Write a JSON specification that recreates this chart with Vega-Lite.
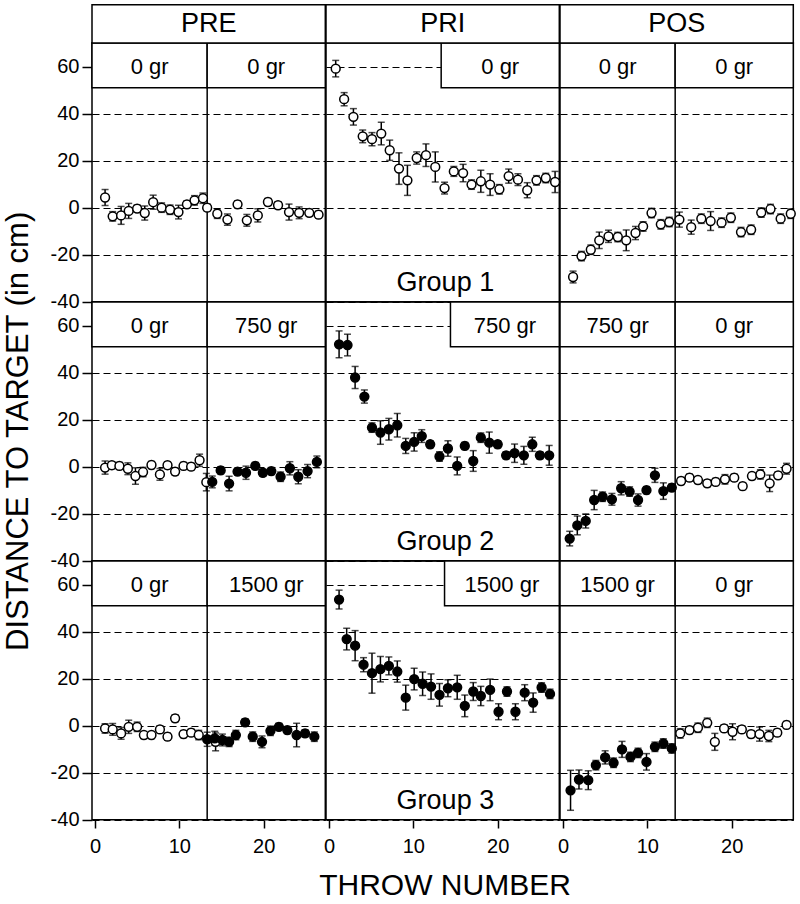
{
  "$schema": "https://vega.github.io/schema/vega-lite/v6.json",
  "background": "white",
  "padding": {"left": 3, "top": 3, "right": 5, "bottom": 5},
  "bounds": "flush",
  "spacing": 0,
  "data": {"values": [
    {"kind":"head","group":"Group 1","phase":"PRE","start":-0.35,"end":27.3,"label":"PRE"},
    {"kind":"head","group":"Group 1","phase":"PRI","start":-0.35,"end":27.3,"label":"PRI"},
    {"kind":"head","group":"Group 1","phase":"POS","start":-0.35,"end":27.3,"label":"POS"},
    {"kind":"box","group":"Group 1","phase":"PRE","start":-0.35,"end":13.3,"label":"0 gr"},
    {"kind":"box","group":"Group 1","phase":"PRE","start":13.3,"end":27.3,"label":"0 gr"},
    {"kind":"box","group":"Group 1","phase":"PRI","start":13.3,"end":27.3,"label":"0 gr"},
    {"kind":"box","group":"Group 1","phase":"POS","start":-0.35,"end":13.3,"label":"0 gr"},
    {"kind":"box","group":"Group 1","phase":"POS","start":13.3,"end":27.3,"label":"0 gr"},
    {"kind":"box","group":"Group 2","phase":"PRE","start":-0.35,"end":13.3,"label":"0 gr"},
    {"kind":"box","group":"Group 2","phase":"PRE","start":13.3,"end":27.3,"label":"750 gr"},
    {"kind":"box","group":"Group 2","phase":"PRI","start":14.4,"end":27.3,"label":"750 gr"},
    {"kind":"box","group":"Group 2","phase":"POS","start":-0.35,"end":13.3,"label":"750 gr"},
    {"kind":"box","group":"Group 2","phase":"POS","start":13.3,"end":27.3,"label":"0 gr"},
    {"kind":"box","group":"Group 3","phase":"PRE","start":-0.35,"end":13.3,"label":"0 gr"},
    {"kind":"box","group":"Group 3","phase":"PRE","start":13.3,"end":27.3,"label":"1500 gr"},
    {"kind":"box","group":"Group 3","phase":"PRI","start":13.7,"end":27.3,"label":"1500 gr"},
    {"kind":"box","group":"Group 3","phase":"POS","start":-0.35,"end":13.3,"label":"1500 gr"},
    {"kind":"box","group":"Group 3","phase":"POS","start":13.3,"end":27.3,"label":"0 gr"},
    {"kind":"glabel","group":"Group 1","phase":"PRI","label":"Group 1"},
    {"kind":"glabel","group":"Group 2","phase":"PRI","label":"Group 2"},
    {"kind":"glabel","group":"Group 3","phase":"PRI","label":"Group 3"},

    {"kind":"pt","group":"Group 1","phase":"PRE","t":1.2,"d":4.3,"se":3.4,"fill":"open"},
    {"kind":"pt","group":"Group 1","phase":"PRE","t":2.1,"d":-3.7,"se":2,"fill":"open"},
    {"kind":"pt","group":"Group 1","phase":"PRE","t":3.1,"d":-3.3,"se":3.8,"fill":"open"},
    {"kind":"pt","group":"Group 1","phase":"PRE","t":4.0,"d":-1.4,"se":3.2,"fill":"open"},
    {"kind":"pt","group":"Group 1","phase":"PRE","t":5.0,"d":-0.4,"se":1.5,"fill":"open"},
    {"kind":"pt","group":"Group 1","phase":"PRE","t":5.9,"d":-2.3,"se":3,"fill":"open"},
    {"kind":"pt","group":"Group 1","phase":"PRE","t":6.9,"d":2.3,"se":3,"fill":"open"},
    {"kind":"pt","group":"Group 1","phase":"PRE","t":7.9,"d":0,"se":2,"fill":"open"},
    {"kind":"pt","group":"Group 1","phase":"PRE","t":8.9,"d":-0.9,"se":2,"fill":"open"},
    {"kind":"pt","group":"Group 1","phase":"PRE","t":9.9,"d":-1.9,"se":2.9,"fill":"open"},
    {"kind":"pt","group":"Group 1","phase":"PRE","t":10.9,"d":1.4,"se":1.5,"fill":"open"},
    {"kind":"pt","group":"Group 1","phase":"PRE","t":11.8,"d":3.1,"se":2,"fill":"open"},
    {"kind":"pt","group":"Group 1","phase":"PRE","t":12.8,"d":4.0,"se":2.2,"fill":"open"},
    {"kind":"pt","group":"Group 1","phase":"PRE","t":13.3,"d":0,"se":1.5,"fill":"open"},
    {"kind":"pt","group":"Group 1","phase":"PRE","t":14.5,"d":-2.6,"se":2,"fill":"open"},
    {"kind":"pt","group":"Group 1","phase":"PRE","t":15.7,"d":-5.1,"se":2.4,"fill":"open"},
    {"kind":"pt","group":"Group 1","phase":"PRE","t":16.9,"d":1.4,"se":1.5,"fill":"open"},
    {"kind":"pt","group":"Group 1","phase":"PRE","t":18.0,"d":-5.4,"se":2.5,"fill":"open"},
    {"kind":"pt","group":"Group 1","phase":"PRE","t":19.3,"d":-3.3,"se":2.8,"fill":"open"},
    {"kind":"pt","group":"Group 1","phase":"PRE","t":20.5,"d":2.4,"se":1.5,"fill":"open"},
    {"kind":"pt","group":"Group 1","phase":"PRE","t":21.7,"d":1.0,"se":1.5,"fill":"open"},
    {"kind":"pt","group":"Group 1","phase":"PRE","t":23.0,"d":-1.9,"se":3.4,"fill":"open"},
    {"kind":"pt","group":"Group 1","phase":"PRE","t":24.2,"d":-2.2,"se":2.5,"fill":"open"},
    {"kind":"pt","group":"Group 1","phase":"PRE","t":25.4,"d":-2.2,"se":1.5,"fill":"open"},
    {"kind":"pt","group":"Group 1","phase":"PRE","t":26.5,"d":-3.0,"se":1.5,"fill":"open"},

    {"kind":"pt","group":"Group 1","phase":"PRI","t":0.8,"d":59.1,"se":3.5,"fill":"open"},
    {"kind":"pt","group":"Group 1","phase":"PRI","t":1.8,"d":46.1,"se":2.8,"fill":"open"},
    {"kind":"pt","group":"Group 1","phase":"PRI","t":2.9,"d":38.6,"se":3.5,"fill":"open"},
    {"kind":"pt","group":"Group 1","phase":"PRI","t":4.0,"d":30.3,"se":2.7,"fill":"open"},
    {"kind":"pt","group":"Group 1","phase":"PRI","t":5.1,"d":29.1,"se":2.8,"fill":"open"},
    {"kind":"pt","group":"Group 1","phase":"PRI","t":6.2,"d":31.5,"se":4.8,"fill":"open"},
    {"kind":"pt","group":"Group 1","phase":"PRI","t":7.2,"d":24.4,"se":4.3,"fill":"open"},
    {"kind":"pt","group":"Group 1","phase":"PRI","t":8.3,"d":16.6,"se":6.7,"fill":"open"},
    {"kind":"pt","group":"Group 1","phase":"PRI","t":9.3,"d":11.6,"se":6.4,"fill":"open"},
    {"kind":"pt","group":"Group 1","phase":"PRI","t":10.4,"d":21.1,"se":2.6,"fill":"open"},
    {"kind":"pt","group":"Group 1","phase":"PRI","t":11.5,"d":22.3,"se":4.8,"fill":"open"},
    {"kind":"pt","group":"Group 1","phase":"PRI","t":12.6,"d":17.3,"se":6.4,"fill":"open"},
    {"kind":"pt","group":"Group 1","phase":"PRI","t":13.7,"d":8.3,"se":2.5,"fill":"open"},
    {"kind":"pt","group":"Group 1","phase":"PRI","t":14.8,"d":15.4,"se":2.1,"fill":"open"},
    {"kind":"pt","group":"Group 1","phase":"PRI","t":15.9,"d":14.7,"se":3.7,"fill":"open"},
    {"kind":"pt","group":"Group 1","phase":"PRI","t":16.9,"d":9.8,"se":2,"fill":"open"},
    {"kind":"pt","group":"Group 1","phase":"PRI","t":18.0,"d":11.2,"se":4.7,"fill":"open"},
    {"kind":"pt","group":"Group 1","phase":"PRI","t":19.1,"d":9.8,"se":4.6,"fill":"open"},
    {"kind":"pt","group":"Group 1","phase":"PRI","t":20.2,"d":7.8,"se":2,"fill":"open"},
    {"kind":"pt","group":"Group 1","phase":"PRI","t":21.3,"d":13.4,"se":3,"fill":"open"},
    {"kind":"pt","group":"Group 1","phase":"PRI","t":22.4,"d":11.9,"se":2.5,"fill":"open"},
    {"kind":"pt","group":"Group 1","phase":"PRI","t":23.5,"d":7.4,"se":3.2,"fill":"open"},
    {"kind":"pt","group":"Group 1","phase":"PRI","t":24.6,"d":11.6,"se":2,"fill":"open"},
    {"kind":"pt","group":"Group 1","phase":"PRI","t":25.7,"d":12.6,"se":2,"fill":"open"},
    {"kind":"pt","group":"Group 1","phase":"PRI","t":26.8,"d":10.9,"se":4.5,"fill":"open"},

    {"kind":"pt","group":"Group 1","phase":"POS","t":1.2,"d":-29.5,"se":2.5,"fill":"open"},
    {"kind":"pt","group":"Group 1","phase":"POS","t":2.2,"d":-20.6,"se":2,"fill":"open"},
    {"kind":"pt","group":"Group 1","phase":"POS","t":3.3,"d":-17.9,"se":2,"fill":"open"},
    {"kind":"pt","group":"Group 1","phase":"POS","t":4.3,"d":-13.9,"se":3.5,"fill":"open"},
    {"kind":"pt","group":"Group 1","phase":"POS","t":5.4,"d":-12.2,"se":2.6,"fill":"open"},
    {"kind":"pt","group":"Group 1","phase":"POS","t":6.5,"d":-12.5,"se":2,"fill":"open"},
    {"kind":"pt","group":"Group 1","phase":"POS","t":7.5,"d":-13.9,"se":4.4,"fill":"open"},
    {"kind":"pt","group":"Group 1","phase":"POS","t":8.6,"d":-10.8,"se":2.8,"fill":"open"},
    {"kind":"pt","group":"Group 1","phase":"POS","t":9.5,"d":-8.0,"se":2,"fill":"open"},
    {"kind":"pt","group":"Group 1","phase":"POS","t":10.5,"d":-2.3,"se":2,"fill":"open"},
    {"kind":"pt","group":"Group 1","phase":"POS","t":11.6,"d":-7.1,"se":2,"fill":"open"},
    {"kind":"pt","group":"Group 1","phase":"POS","t":12.6,"d":-6.1,"se":2,"fill":"open"},
    {"kind":"pt","group":"Group 1","phase":"POS","t":13.8,"d":-5.1,"se":3.2,"fill":"open"},
    {"kind":"pt","group":"Group 1","phase":"POS","t":15.2,"d":-8.3,"se":3,"fill":"open"},
    {"kind":"pt","group":"Group 1","phase":"POS","t":16.4,"d":-4.7,"se":2,"fill":"open"},
    {"kind":"pt","group":"Group 1","phase":"POS","t":17.5,"d":-5.7,"se":4,"fill":"open"},
    {"kind":"pt","group":"Group 1","phase":"POS","t":18.8,"d":-6.4,"se":2,"fill":"open"},
    {"kind":"pt","group":"Group 1","phase":"POS","t":19.9,"d":-4.3,"se":2,"fill":"open"},
    {"kind":"pt","group":"Group 1","phase":"POS","t":21.1,"d":-10.4,"se":2,"fill":"open"},
    {"kind":"pt","group":"Group 1","phase":"POS","t":22.3,"d":-9.4,"se":2,"fill":"open"},
    {"kind":"pt","group":"Group 1","phase":"POS","t":23.5,"d":-2.1,"se":2,"fill":"open"},
    {"kind":"pt","group":"Group 1","phase":"POS","t":24.6,"d":-0.6,"se":2,"fill":"open"},
    {"kind":"pt","group":"Group 1","phase":"POS","t":25.8,"d":-4.7,"se":2,"fill":"open"},
    {"kind":"pt","group":"Group 1","phase":"POS","t":27.0,"d":-2.6,"se":2,"fill":"open"},

    {"kind":"pt","group":"Group 2","phase":"PRE","t":1.2,"d":-0.4,"se":2.8,"fill":"open"},
    {"kind":"pt","group":"Group 2","phase":"PRE","t":2.0,"d":0.6,"se":1.5,"fill":"open"},
    {"kind":"pt","group":"Group 2","phase":"PRE","t":2.9,"d":0.3,"se":1.5,"fill":"open"},
    {"kind":"pt","group":"Group 2","phase":"PRE","t":3.9,"d":-0.9,"se":2.5,"fill":"open"},
    {"kind":"pt","group":"Group 2","phase":"PRE","t":4.8,"d":-4.0,"se":3.5,"fill":"open"},
    {"kind":"pt","group":"Group 2","phase":"PRE","t":5.7,"d":-2.3,"se":2,"fill":"open"},
    {"kind":"pt","group":"Group 2","phase":"PRE","t":6.7,"d":0.7,"se":1.5,"fill":"open"},
    {"kind":"pt","group":"Group 2","phase":"PRE","t":7.7,"d":-3.3,"se":2.5,"fill":"open"},
    {"kind":"pt","group":"Group 2","phase":"PRE","t":8.6,"d":0.6,"se":1.5,"fill":"open"},
    {"kind":"pt","group":"Group 2","phase":"PRE","t":9.5,"d":-2.1,"se":1.5,"fill":"open"},
    {"kind":"pt","group":"Group 2","phase":"PRE","t":10.5,"d":0.3,"se":1.5,"fill":"open"},
    {"kind":"pt","group":"Group 2","phase":"PRE","t":11.4,"d":0,"se":1.5,"fill":"open"},
    {"kind":"pt","group":"Group 2","phase":"PRE","t":12.4,"d":2.7,"se":2.6,"fill":"open"},
    {"kind":"pt","group":"Group 2","phase":"PRE","t":13.2,"d":-6.6,"se":3.7,"fill":"open"},
    {"kind":"pt","group":"Group 2","phase":"PRE","t":13.9,"d":-6.5,"se":2.5,"fill":"filled"},
    {"kind":"pt","group":"Group 2","phase":"PRE","t":14.9,"d":-1.6,"se":1.5,"fill":"filled"},
    {"kind":"pt","group":"Group 2","phase":"PRE","t":15.9,"d":-7.2,"se":3.1,"fill":"filled"},
    {"kind":"pt","group":"Group 2","phase":"PRE","t":16.9,"d":-2.1,"se":1.5,"fill":"filled"},
    {"kind":"pt","group":"Group 2","phase":"PRE","t":17.9,"d":-2.6,"se":2.8,"fill":"filled"},
    {"kind":"pt","group":"Group 2","phase":"PRE","t":19.0,"d":0.3,"se":1.5,"fill":"filled"},
    {"kind":"pt","group":"Group 2","phase":"PRE","t":19.9,"d":-2.6,"se":1.5,"fill":"filled"},
    {"kind":"pt","group":"Group 2","phase":"PRE","t":20.9,"d":-1.9,"se":1.5,"fill":"filled"},
    {"kind":"pt","group":"Group 2","phase":"PRE","t":22.0,"d":-4.3,"se":2,"fill":"filled"},
    {"kind":"pt","group":"Group 2","phase":"PRE","t":23.1,"d":-0.7,"se":2.8,"fill":"filled"},
    {"kind":"pt","group":"Group 2","phase":"PRE","t":24.1,"d":-4.3,"se":3,"fill":"filled"},
    {"kind":"pt","group":"Group 2","phase":"PRE","t":25.2,"d":-1.9,"se":2.8,"fill":"filled"},
    {"kind":"pt","group":"Group 2","phase":"PRE","t":26.3,"d":2.0,"se":2.5,"fill":"filled"},

    {"kind":"pt","group":"Group 2","phase":"PRI","t":1.2,"d":52.0,"se":5.7,"fill":"filled"},
    {"kind":"pt","group":"Group 2","phase":"PRI","t":2.2,"d":51.7,"se":4.6,"fill":"filled"},
    {"kind":"pt","group":"Group 2","phase":"PRI","t":3.1,"d":37.9,"se":4.7,"fill":"filled"},
    {"kind":"pt","group":"Group 2","phase":"PRI","t":4.2,"d":29.8,"se":2.8,"fill":"filled"},
    {"kind":"pt","group":"Group 2","phase":"PRI","t":5.1,"d":16.6,"se":2,"fill":"filled"},
    {"kind":"pt","group":"Group 2","phase":"PRI","t":6.1,"d":14.5,"se":5.0,"fill":"filled"},
    {"kind":"pt","group":"Group 2","phase":"PRI","t":7.1,"d":15.9,"se":4.6,"fill":"filled"},
    {"kind":"pt","group":"Group 2","phase":"PRI","t":8.1,"d":17.6,"se":5.0,"fill":"filled"},
    {"kind":"pt","group":"Group 2","phase":"PRI","t":9.1,"d":8.8,"se":3.2,"fill":"filled"},
    {"kind":"pt","group":"Group 2","phase":"PRI","t":10.1,"d":10.5,"se":3.9,"fill":"filled"},
    {"kind":"pt","group":"Group 2","phase":"PRI","t":11.0,"d":13.0,"se":2.7,"fill":"filled"},
    {"kind":"pt","group":"Group 2","phase":"PRI","t":12.0,"d":9.5,"se":1.5,"fill":"filled"},
    {"kind":"pt","group":"Group 2","phase":"PRI","t":13.1,"d":4.3,"se":2,"fill":"filled"},
    {"kind":"pt","group":"Group 2","phase":"PRI","t":14.1,"d":7.7,"se":3.3,"fill":"filled"},
    {"kind":"pt","group":"Group 2","phase":"PRI","t":15.2,"d":0.3,"se":3.8,"fill":"filled"},
    {"kind":"pt","group":"Group 2","phase":"PRI","t":16.1,"d":8.8,"se":1.5,"fill":"filled"},
    {"kind":"pt","group":"Group 2","phase":"PRI","t":17.1,"d":2.4,"se":4.4,"fill":"filled"},
    {"kind":"pt","group":"Group 2","phase":"PRI","t":18.0,"d":12.3,"se":2,"fill":"filled"},
    {"kind":"pt","group":"Group 2","phase":"PRI","t":19.0,"d":10.2,"se":4.5,"fill":"filled"},
    {"kind":"pt","group":"Group 2","phase":"PRI","t":20.0,"d":9.5,"se":1.5,"fill":"filled"},
    {"kind":"pt","group":"Group 2","phase":"PRI","t":21.0,"d":4.8,"se":1.5,"fill":"filled"},
    {"kind":"pt","group":"Group 2","phase":"PRI","t":22.0,"d":5.7,"se":3.9,"fill":"filled"},
    {"kind":"pt","group":"Group 2","phase":"PRI","t":23.1,"d":4.8,"se":3.8,"fill":"filled"},
    {"kind":"pt","group":"Group 2","phase":"PRI","t":24.1,"d":9.5,"se":3,"fill":"filled"},
    {"kind":"pt","group":"Group 2","phase":"PRI","t":25.0,"d":4.8,"se":1.5,"fill":"filled"},
    {"kind":"pt","group":"Group 2","phase":"PRI","t":26.1,"d":4.8,"se":4.2,"fill":"filled"},

    {"kind":"pt","group":"Group 2","phase":"POS","t":0.8,"d":-30.6,"se":3.1,"fill":"filled"},
    {"kind":"pt","group":"Group 2","phase":"POS","t":1.7,"d":-25.0,"se":4,"fill":"filled"},
    {"kind":"pt","group":"Group 2","phase":"POS","t":2.7,"d":-23.1,"se":3,"fill":"filled"},
    {"kind":"pt","group":"Group 2","phase":"POS","t":3.7,"d":-14.2,"se":4.1,"fill":"filled"},
    {"kind":"pt","group":"Group 2","phase":"POS","t":4.7,"d":-12.8,"se":2,"fill":"filled"},
    {"kind":"pt","group":"Group 2","phase":"POS","t":5.8,"d":-13.9,"se":2.5,"fill":"filled"},
    {"kind":"pt","group":"Group 2","phase":"POS","t":6.9,"d":-9.2,"se":2.8,"fill":"filled"},
    {"kind":"pt","group":"Group 2","phase":"POS","t":7.9,"d":-10.6,"se":2,"fill":"filled"},
    {"kind":"pt","group":"Group 2","phase":"POS","t":8.9,"d":-14.2,"se":2.6,"fill":"filled"},
    {"kind":"pt","group":"Group 2","phase":"POS","t":9.9,"d":-10.0,"se":1.5,"fill":"filled"},
    {"kind":"pt","group":"Group 2","phase":"POS","t":10.9,"d":-3.7,"se":3,"fill":"filled"},
    {"kind":"pt","group":"Group 2","phase":"POS","t":11.9,"d":-10.4,"se":3.5,"fill":"filled"},
    {"kind":"pt","group":"Group 2","phase":"POS","t":12.9,"d":-8.9,"se":1.5,"fill":"filled"},
    {"kind":"pt","group":"Group 2","phase":"POS","t":14.0,"d":-6.1,"se":1.5,"fill":"open"},
    {"kind":"pt","group":"Group 2","phase":"POS","t":15.0,"d":-4.7,"se":1.5,"fill":"open"},
    {"kind":"pt","group":"Group 2","phase":"POS","t":16.0,"d":-5.7,"se":1.5,"fill":"open"},
    {"kind":"pt","group":"Group 2","phase":"POS","t":17.1,"d":-7.1,"se":1.5,"fill":"open"},
    {"kind":"pt","group":"Group 2","phase":"POS","t":18.1,"d":-6.5,"se":1.5,"fill":"open"},
    {"kind":"pt","group":"Group 2","phase":"POS","t":19.2,"d":-5.4,"se":2,"fill":"open"},
    {"kind":"pt","group":"Group 2","phase":"POS","t":20.3,"d":-4.7,"se":1.5,"fill":"open"},
    {"kind":"pt","group":"Group 2","phase":"POS","t":21.3,"d":-8.3,"se":1.5,"fill":"open"},
    {"kind":"pt","group":"Group 2","phase":"POS","t":22.4,"d":-4.0,"se":1.5,"fill":"open"},
    {"kind":"pt","group":"Group 2","phase":"POS","t":23.4,"d":-3.3,"se":2,"fill":"open"},
    {"kind":"pt","group":"Group 2","phase":"POS","t":24.5,"d":-7.1,"se":3.5,"fill":"open"},
    {"kind":"pt","group":"Group 2","phase":"POS","t":25.5,"d":-3.7,"se":1.5,"fill":"open"},
    {"kind":"pt","group":"Group 2","phase":"POS","t":26.5,"d":-0.9,"se":2.3,"fill":"open"},

    {"kind":"pt","group":"Group 3","phase":"PRE","t":1.2,"d":-1.2,"se":2,"fill":"open"},
    {"kind":"pt","group":"Group 3","phase":"PRE","t":2.1,"d":-1.6,"se":2.5,"fill":"open"},
    {"kind":"pt","group":"Group 3","phase":"PRE","t":3.1,"d":-3.3,"se":2.5,"fill":"open"},
    {"kind":"pt","group":"Group 3","phase":"PRE","t":4.0,"d":-0.5,"se":2.8,"fill":"open"},
    {"kind":"pt","group":"Group 3","phase":"PRE","t":5.0,"d":-0.5,"se":2,"fill":"open"},
    {"kind":"pt","group":"Group 3","phase":"PRE","t":5.8,"d":-4.0,"se":1.5,"fill":"open"},
    {"kind":"pt","group":"Group 3","phase":"PRE","t":6.7,"d":-4.0,"se":1.5,"fill":"open"},
    {"kind":"pt","group":"Group 3","phase":"PRE","t":7.7,"d":-1.6,"se":1.5,"fill":"open"},
    {"kind":"pt","group":"Group 3","phase":"PRE","t":8.6,"d":-4.7,"se":1.5,"fill":"open"},
    {"kind":"pt","group":"Group 3","phase":"PRE","t":9.5,"d":3.1,"se":1.5,"fill":"open"},
    {"kind":"pt","group":"Group 3","phase":"PRE","t":10.5,"d":-3.6,"se":1.5,"fill":"open"},
    {"kind":"pt","group":"Group 3","phase":"PRE","t":11.4,"d":-3.0,"se":1.5,"fill":"open"},
    {"kind":"pt","group":"Group 3","phase":"PRE","t":12.3,"d":-4.0,"se":2,"fill":"open"},
    {"kind":"pt","group":"Group 3","phase":"PRE","t":14.3,"d":-6.9,"se":3.8,"fill":"open"},
    {"kind":"pt","group":"Group 3","phase":"PRE","t":13.3,"d":-5.8,"se":3,"fill":"filled"},
    {"kind":"pt","group":"Group 3","phase":"PRE","t":14.2,"d":-5.4,"se":3,"fill":"filled"},
    {"kind":"pt","group":"Group 3","phase":"PRE","t":15.1,"d":-6.1,"se":2.5,"fill":"filled"},
    {"kind":"pt","group":"Group 3","phase":"PRE","t":15.9,"d":-6.9,"se":2,"fill":"filled"},
    {"kind":"pt","group":"Group 3","phase":"PRE","t":16.7,"d":-4.0,"se":2,"fill":"filled"},
    {"kind":"pt","group":"Group 3","phase":"PRE","t":17.8,"d":1.4,"se":1.5,"fill":"filled"},
    {"kind":"pt","group":"Group 3","phase":"PRE","t":18.7,"d":-4.7,"se":2,"fill":"filled"},
    {"kind":"pt","group":"Group 3","phase":"PRE","t":19.8,"d":-6.9,"se":2.5,"fill":"filled"},
    {"kind":"pt","group":"Group 3","phase":"PRE","t":20.8,"d":-2.2,"se":2,"fill":"filled"},
    {"kind":"pt","group":"Group 3","phase":"PRE","t":21.8,"d":-0.5,"se":1.5,"fill":"filled"},
    {"kind":"pt","group":"Group 3","phase":"PRE","t":22.8,"d":-1.9,"se":1.5,"fill":"filled"},
    {"kind":"pt","group":"Group 3","phase":"PRE","t":23.9,"d":-4.0,"se":5,"fill":"filled"},
    {"kind":"pt","group":"Group 3","phase":"PRE","t":24.9,"d":-3.3,"se":1.5,"fill":"filled"},
    {"kind":"pt","group":"Group 3","phase":"PRE","t":26.0,"d":-4.7,"se":2,"fill":"filled"},

    {"kind":"pt","group":"Group 3","phase":"PRI","t":1.2,"d":53.6,"se":4.0,"fill":"filled"},
    {"kind":"pt","group":"Group 3","phase":"PRI","t":2.1,"d":36.8,"se":4.6,"fill":"filled"},
    {"kind":"pt","group":"Group 3","phase":"PRI","t":3.1,"d":34.0,"se":6.4,"fill":"filled"},
    {"kind":"pt","group":"Group 3","phase":"PRI","t":4.1,"d":25.9,"se":3,"fill":"filled"},
    {"kind":"pt","group":"Group 3","phase":"PRI","t":5.1,"d":22.3,"se":8.5,"fill":"filled"},
    {"kind":"pt","group":"Group 3","phase":"PRI","t":6.1,"d":24.0,"se":5.4,"fill":"filled"},
    {"kind":"pt","group":"Group 3","phase":"PRI","t":7.1,"d":25.4,"se":3.8,"fill":"filled"},
    {"kind":"pt","group":"Group 3","phase":"PRI","t":8.1,"d":23.0,"se":4.5,"fill":"filled"},
    {"kind":"pt","group":"Group 3","phase":"PRI","t":9.1,"d":11.9,"se":5.3,"fill":"filled"},
    {"kind":"pt","group":"Group 3","phase":"PRI","t":10.1,"d":19.8,"se":4.6,"fill":"filled"},
    {"kind":"pt","group":"Group 3","phase":"PRI","t":11.1,"d":17.8,"se":5,"fill":"filled"},
    {"kind":"pt","group":"Group 3","phase":"PRI","t":12.1,"d":16.6,"se":5.4,"fill":"filled"},
    {"kind":"pt","group":"Group 3","phase":"PRI","t":13.1,"d":13.1,"se":4.8,"fill":"filled"},
    {"kind":"pt","group":"Group 3","phase":"PRI","t":14.1,"d":15.9,"se":3.6,"fill":"filled"},
    {"kind":"pt","group":"Group 3","phase":"PRI","t":15.2,"d":16.3,"se":5.1,"fill":"filled"},
    {"kind":"pt","group":"Group 3","phase":"PRI","t":16.1,"d":8.4,"se":4.6,"fill":"filled"},
    {"kind":"pt","group":"Group 3","phase":"PRI","t":17.1,"d":14.5,"se":3.8,"fill":"filled"},
    {"kind":"pt","group":"Group 3","phase":"PRI","t":18.0,"d":12.6,"se":4.1,"fill":"filled"},
    {"kind":"pt","group":"Group 3","phase":"PRI","t":19.1,"d":15.2,"se":4.6,"fill":"filled"},
    {"kind":"pt","group":"Group 3","phase":"PRI","t":20.1,"d":5.9,"se":3.4,"fill":"filled"},
    {"kind":"pt","group":"Group 3","phase":"PRI","t":21.1,"d":14.5,"se":2,"fill":"filled"},
    {"kind":"pt","group":"Group 3","phase":"PRI","t":22.1,"d":5.9,"se":3.4,"fill":"filled"},
    {"kind":"pt","group":"Group 3","phase":"PRI","t":23.2,"d":14.0,"se":3.4,"fill":"filled"},
    {"kind":"pt","group":"Group 3","phase":"PRI","t":24.2,"d":9.8,"se":4.1,"fill":"filled"},
    {"kind":"pt","group":"Group 3","phase":"PRI","t":25.2,"d":16.2,"se":2,"fill":"filled"},
    {"kind":"pt","group":"Group 3","phase":"PRI","t":26.2,"d":13.5,"se":2,"fill":"filled"},

    {"kind":"pt","group":"Group 3","phase":"POS","t":0.9,"d":-27.5,"se":8.5,"fill":"filled"},
    {"kind":"pt","group":"Group 3","phase":"POS","t":1.9,"d":-22.9,"se":4,"fill":"filled"},
    {"kind":"pt","group":"Group 3","phase":"POS","t":3.0,"d":-23.2,"se":4,"fill":"filled"},
    {"kind":"pt","group":"Group 3","phase":"POS","t":3.9,"d":-16.8,"se":2,"fill":"filled"},
    {"kind":"pt","group":"Group 3","phase":"POS","t":5.0,"d":-13.5,"se":2.8,"fill":"filled"},
    {"kind":"pt","group":"Group 3","phase":"POS","t":6.0,"d":-15.8,"se":2,"fill":"filled"},
    {"kind":"pt","group":"Group 3","phase":"POS","t":7.0,"d":-10.1,"se":3.4,"fill":"filled"},
    {"kind":"pt","group":"Group 3","phase":"POS","t":8.0,"d":-13.3,"se":2,"fill":"filled"},
    {"kind":"pt","group":"Group 3","phase":"POS","t":8.9,"d":-11.6,"se":2,"fill":"filled"},
    {"kind":"pt","group":"Group 3","phase":"POS","t":9.9,"d":-15.4,"se":3.5,"fill":"filled"},
    {"kind":"pt","group":"Group 3","phase":"POS","t":10.9,"d":-9.0,"se":2,"fill":"filled"},
    {"kind":"pt","group":"Group 3","phase":"POS","t":11.9,"d":-7.6,"se":2,"fill":"filled"},
    {"kind":"pt","group":"Group 3","phase":"POS","t":12.9,"d":-9.7,"se":2,"fill":"filled"},
    {"kind":"pt","group":"Group 3","phase":"POS","t":13.9,"d":-3.3,"se":2,"fill":"open"},
    {"kind":"pt","group":"Group 3","phase":"POS","t":15.0,"d":-1.9,"se":1.5,"fill":"open"},
    {"kind":"pt","group":"Group 3","phase":"POS","t":16.0,"d":-0.9,"se":2,"fill":"open"},
    {"kind":"pt","group":"Group 3","phase":"POS","t":17.1,"d":1.2,"se":2,"fill":"open"},
    {"kind":"pt","group":"Group 3","phase":"POS","t":18.0,"d":-6.9,"se":3.6,"fill":"open"},
    {"kind":"pt","group":"Group 3","phase":"POS","t":19.1,"d":-1.2,"se":1.5,"fill":"open"},
    {"kind":"pt","group":"Group 3","phase":"POS","t":20.1,"d":-2.6,"se":3.4,"fill":"open"},
    {"kind":"pt","group":"Group 3","phase":"POS","t":21.2,"d":-1.6,"se":1.5,"fill":"open"},
    {"kind":"pt","group":"Group 3","phase":"POS","t":22.3,"d":-3.6,"se":1.5,"fill":"open"},
    {"kind":"pt","group":"Group 3","phase":"POS","t":23.3,"d":-3.6,"se":3,"fill":"open"},
    {"kind":"pt","group":"Group 3","phase":"POS","t":24.4,"d":-4.4,"se":2.4,"fill":"open"},
    {"kind":"pt","group":"Group 3","phase":"POS","t":25.4,"d":-3.0,"se":1.5,"fill":"open"},
    {"kind":"pt","group":"Group 3","phase":"POS","t":26.5,"d":0.3,"se":1.5,"fill":"open"}
  ]},
  "facet": {
    "row": {"field": "group", "type": "nominal", "title": null,
      "header": {"labelExpr": "datum.value == 'Group 2' ? 'DISTANCE TO TARGET (in cm)' : ''", "labelFontSize": 31, "labelFont": "Liberation Sans", "labelColor": "black", "labelAngle": -90, "labelAlign": "center", "labelAnchor": "middle", "labelPadding": 0}},
    "column": {"field": "phase", "type": "nominal", "sort": ["PRE", "PRI", "POS"], "title": "THROW NUMBER",
      "header": {"labels": false, "titleOrient": "bottom", "titleFontSize": 30, "titleFont": "Liberation Sans", "titleFontWeight": "normal", "titleColor": "black", "titlePadding": 5}}
  },
  "spec": {
    "width": 233.3,
    "height": 258.7,
    "layer": [
      {
        "transform": [{"filter": "datum.kind == 'box'"}],
        "mark": {"type": "rect", "fill": "white", "stroke": "black", "strokeWidth": 1.5},
        "encoding": {
          "x": {"field": "start", "type": "quantitative", "scale": {"domain": [-0.35, 27.3], "nice": false, "zero": false},
            "axis": {"values": [0, 10, 20], "grid": false, "domain": false, "tickSize": 8, "tickWidth": 1.5, "tickColor": "black", "labelFontSize": 20, "labelFont": "Liberation Sans", "labelColor": "black", "labelPadding": 8, "title": null, "labelFlush": false, "labelOverlap": false}},
          "x2": {"field": "end"},
          "y": {"datum": 51, "type": "quantitative", "scale": {"domain": [-40, 70], "nice": false, "zero": false},
            "axis": {"values": [-40, -20, 0, 20, 40, 60], "grid": true, "gridDash": [7, 4], "gridColor": "black", "gridWidth": 1.2, "gridOpacity": 1, "domain": false, "tickSize": 10, "tickWidth": 1.5, "tickColor": "black", "labelFontSize": 20, "labelFont": "Liberation Sans", "labelColor": "black", "labelPadding": 3, "title": null, "labelFlush": false, "labelOverlap": false, "labelExpr": "'' + datum.value"}},
          "y2": {"datum": 70}
        }
      },
      {
        "transform": [{"filter": "datum.kind == 'head'"}],
        "mark": {"type": "rect", "fill": "white", "stroke": "black", "strokeWidth": 1.5},
        "encoding": {
          "x": {"field": "start", "type": "quantitative"},
          "x2": {"field": "end"},
          "y": {"datum": 70, "type": "quantitative"},
          "y2": {"datum": 86.3}
        }
      },
      {
        "transform": [{"filter": "datum.kind == 'box' && datum.phase != 'PRI' && datum.start > 0"}],
        "mark": {"type": "rule", "stroke": "black", "strokeWidth": 1.5},
        "encoding": {
          "x": {"field": "start", "type": "quantitative"},
          "y": {"datum": -40, "type": "quantitative"},
          "y2": {"datum": 51}
        }
      },
      {
        "transform": [{"filter": "datum.kind == 'pt'"}],
        "mark": {"type": "errorbar", "color": "black", "ticks": {"size": 7, "thickness": 1.5, "color": "black"}, "rule": {"strokeWidth": 1.5, "color": "black"}},
        "encoding": {
          "x": {"field": "t", "type": "quantitative"},
          "y": {"field": "d", "type": "quantitative"},
          "yError": {"field": "se"}
        }
      },
      {
        "transform": [{"filter": "datum.kind == 'pt'"}],
        "mark": {"type": "point", "shape": "circle", "filled": true, "size": 78, "stroke": "black", "strokeWidth": 1.5, "opacity": 1},
        "encoding": {
          "x": {"field": "t", "type": "quantitative"},
          "y": {"field": "d", "type": "quantitative"},
          "fill": {"field": "fill", "type": "nominal", "scale": {"domain": ["open", "filled"], "range": ["white", "black"]}, "legend": null}
        }
      },
      {
        "transform": [{"filter": "datum.kind == 'box'"}, {"calculate": "(datum.start + datum.end) / 2", "as": "mid"}],
        "mark": {"type": "text", "font": "Liberation Sans", "fontSize": 22, "baseline": "middle", "align": "center", "color": "black"},
        "encoding": {
          "x": {"field": "mid", "type": "quantitative"},
          "y": {"datum": 60, "type": "quantitative"},
          "text": {"field": "label"}
        }
      },
      {
        "transform": [{"filter": "datum.kind == 'head'"}, {"calculate": "(datum.start + datum.end) / 2", "as": "mid"}],
        "mark": {"type": "text", "font": "Liberation Sans", "fontSize": 27, "baseline": "middle", "align": "center", "color": "black"},
        "encoding": {
          "x": {"field": "mid", "type": "quantitative"},
          "y": {"datum": 78, "type": "quantitative"},
          "text": {"field": "label"}
        }
      },
      {
        "transform": [{"filter": "datum.kind == 'glabel'"}],
        "mark": {"type": "text", "font": "Liberation Sans", "fontSize": 27, "baseline": "alphabetic", "align": "center", "color": "black"},
        "encoding": {
          "x": {"datum": 13.8, "type": "quantitative"},
          "y": {"datum": -35.3, "type": "quantitative"},
          "text": {"field": "label"}
        }
      }
    ]
  },
  "config": {
    "view": {"stroke": "black", "strokeWidth": 1.5},
    "font": "Liberation Sans"
  }
}
